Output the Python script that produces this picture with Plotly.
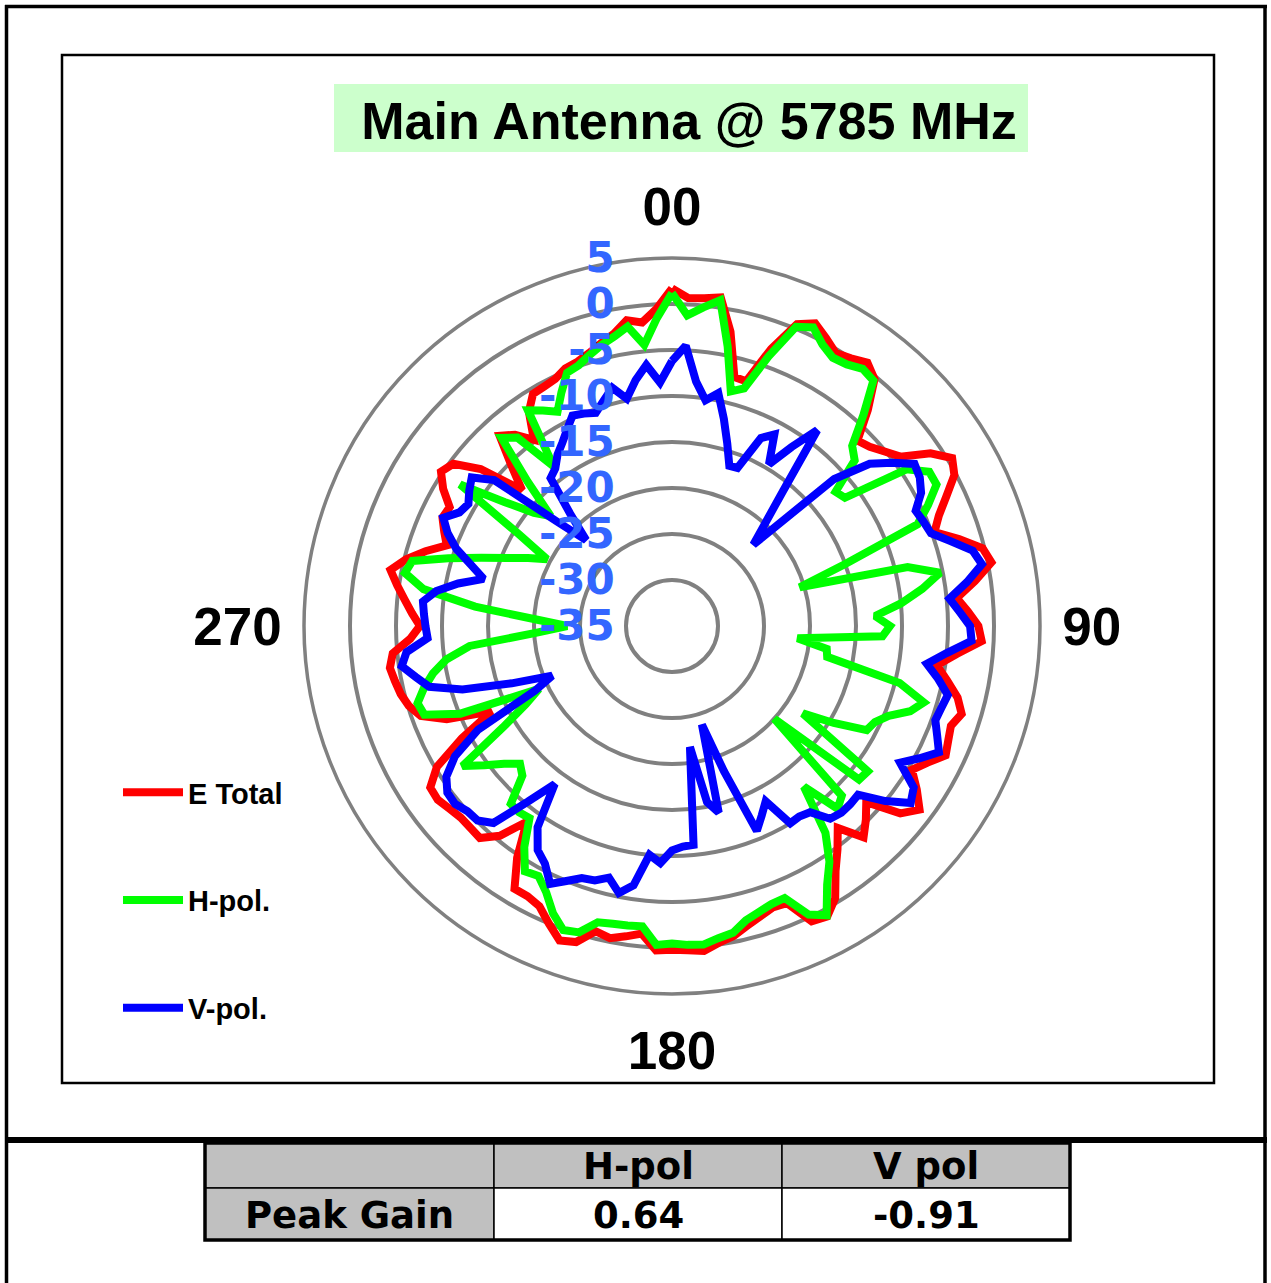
import plotly.graph_objects as go

W, H = 1271, 1283

# ---------------- data ----------------
N_CAT = 128                                   # radar categories (360/128 deg apart)
ANGLES = [i * 360 / N_CAT for i in range(N_CAT)]

E_TOTAL = [
    1.7, 0.7, 0.8, 1.1, -2.4, -7.1, -7.2, -3.0, 0.5, 1.4, 0.5, -0.4, 0.0, 0.65, -0.3, -3.3,
    -6.5, -6.0, -5.1, -4.1, -1.2, 0.5, -0.2, -2.0, -3.6, -4.7, -2.4, -0.2, 0.4, -1.7, -3.9, -2.8,
    -1.7, -1.3, -3.9, -5.9, -4.5, -3.0, -2.1, -2.8, -2.5, -2.1, -3.5, -4.6, -3.0, -1.5, -2.9, -6.5,
    -5.2, -4.0, -6.6, -4.8, -3.0, -0.5, 0.8, 0.5, -2.4, -2.5, -2.0, -1.4, -0.65, -0.2, 0.5, 0.3,
    0.2, 0.3, -1.4, -0.9, -0.4, -0.8, 0.9, 1.3, 0.0, -1.3, -1.7, -1.7, -4.7, -8.5, -5.5, -3.9,
    -4.0, -4.0, -3.7, -3.3, -3.4, -5.2, -9.1, -13.3, -8.5, -6.0, -5.1, -4.6, -4.3, -4.0, -4.5, -6.5,
    -7.6, -6.7, -5.8, -4.8, -3.8, -5.2, -7.0, -9.0, -8.2, -7.4, -7.6, -6.0, -4.8, -5.4, -8.1, -13.0,
    -10.3, -7.1, -8.1, -9.8, -7.0, -5.6, -5.5, -5.3, -4.7, -4.5, -4.0, -3.3, -2.6, -1.4, -1.85, -0.5,
]

H_POL = [
    1.2, -1.2, -0.2, 0.8, -4.0, -8.7, -8.0, -3.9, 0.2, 0.9, -0.3, -1.0, -0.8, -0.2, -0.5, -4.0,
    -7.3, -8.2, -12.0, -11.6, -4.35, -2.4, -2.4, -4.2, -6.1, -15.0, -20.5, -8.6, -5.3, -7.5, -10.0, -12.9,
    -11.3, -12.1, -21.3, -18.0, -17.8, -9.5, -6.4, -7.5, -9.5, -10.6, -11.0, -14.5, -17.9, -8.5, -8.7, -20.0,
    -8.9, -8.2, -12.4, -7.0, -4.2, -2.2, 0.65, -0.3, -3.0, -2.9, -2.5, -2.0, -1.0, -0.7, -0.2, -0.3,
    -0.5, -0.3, -2.2, -2.1, -2.0, -1.8, -0.2, 0.1, -1.2, -3.0, -4.2, -3.9, -6.1, -9.0, -8.8, -8.9,
    -12.0, -12.7, -11.4, -9.6, -7.6, -13.6, -17.0, -19.0, -10.1, -6.4, -6.1, -7.2, -8.5, -10.2, -12.9, -20.3,
    -23.6, -20.1, -13.5, -7.7, -5.4, -5.9, -9.6, -13.0, -15.7, -17.7, -19.6, -15.6, -7.3, -12.4, -15.6, -17.2,
    -12.8, -7.4, -8.5, -13.4, -6.8, -7.7, -8.6, -6.9, -5.2, -4.9, -4.2, -3.5, -2.9, -2.1, -4.3, -1.5,
]

V_POL = [
    -6.2, -4.5, -8.3, -10.2, -9.2, -11.8, -14.3, -16.5, -16.4, -12.4, -11.4, -14.5, -11.6, -8.5, -15.9, -19.9,
    -22.5, -11.2, -7.2, -5.2, -3.3, -3.6, -4.3, -5.7, -5.4, -5.1, -3.3, -1.3, -0.65, -2.6, -4.7, -3.7,
    -2.6, -2.4, -5.0, -7.0, -5.5, -4.1, -4.4, -4.6, -3.8, -2.9, -4.5, -6.1, -3.4, -2.7, -5.0, -7.7,
    -7.6, -7.6, -7.9, -9.8, -10.1, -10.0, -13.4, -12.2, -10.9, -18.2, -23.8, -14.1, -15.5, -21.7, -11.1, -11.0,
    -10.6, -9.2, -10.0, -6.5, -5.4, -6.8, -6.1, -5.9, -5.0, -4.0, -5.7, -6.6, -8.7, -13.6, -10.3, -6.1,
    -5.1, -5.0, -4.5, -4.6, -5.5, -7.5, -11.1, -18.5, -20.9, -16.5, -11.2, -7.8, -6.6, -5.3, -6.0, -8.4,
    -8.2, -8.0, -7.8, -9.1, -11.3, -13.9, -12.2, -10.1, -8.6, -7.5, -8.8, -9.2, -8.5, -7.9, -10.0, -18.0,
    -21.8, -18.5, -14.2, -13.7, -12.6, -11.8, -10.8, -9.7, -10.0, -10.4, -9.4, -8.3, -9.8, -8.0, -6.5, -8.5,
]

SERIES_NAMES = ["E Total", "H-pol.", "V-pol."]
SERIES_COLORS = ["#ff0000", "#00ff00", "#0000ff"]

RADIAL_TICKS = [-35, -30, -25, -20, -15, -10, -5, 0, 5]
ANGULAR_TICKS = [0, 90, 180, 270]
ANGULAR_LABELS = ["00", "90", "180", "270"]

TITLE = "Main Antenna @ 5785 MHz"
TABLE_HEADER = ["", "H-pol", "V pol"]
TABLE_ROW = ["Peak Gain", "0.64", "-0.91"]

# ---------------- helpers (pixel -> paper) ----------------
def px(x):
    return x / W


def py(y):
    return 1 - y / H


ARIAL = "Liberation Sans, Arial, sans-serif"
VERDANA = "DejaVu Sans, Verdana, sans-serif"

fig = go.Figure()

for name, vals, col in zip(SERIES_NAMES, [E_TOTAL, H_POL, V_POL], SERIES_COLORS):
    fig.add_trace(go.Scatterpolar(
        r=vals + [vals[0]],
        theta=ANGLES + [360],
        mode="lines",
        name=name,
        legendgroup=name,
        line=dict(color=col, width=8),
    ))

shapes = []
# title background
shapes.append(dict(type="rect", xref="paper", yref="paper",
                   x0=px(334), x1=px(1028), y0=py(152), y1=py(84),
                   fillcolor="#ccffcc", line=dict(width=0), layer="below"))
# inner chart frame
shapes.append(dict(type="rect", xref="paper", yref="paper",
                   x0=px(62), x1=px(1214), y0=py(1083), y1=py(55),
                   line=dict(color="black", width=2.5), layer="below"))
# outer frame lines
shapes.append(dict(type="line", xref="paper", yref="paper",
                   x0=px(6.5), x1=px(6.5), y0=py(5), y1=py(1283), line=dict(color="black", width=3.5)))
shapes.append(dict(type="line", xref="paper", yref="paper",
                   x0=px(1265), x1=px(1265), y0=py(5), y1=py(1283), line=dict(color="black", width=3.5)))
shapes.append(dict(type="line", xref="paper", yref="paper",
                   x0=px(5), x1=px(1267), y0=py(6.5), y1=py(6.5), line=dict(color="black", width=3.5)))
shapes.append(dict(type="line", xref="paper", yref="paper",
                   x0=px(5), x1=px(1267), y0=py(1140), y1=py(1140), line=dict(color="black", width=6)))

# table
col_edges = [205, 494, 782, 1070]
row_edges = [1143, 1188, 1240]
GRAY = "#c0c0c0"
fills = [[GRAY, GRAY, GRAY], [GRAY, "white", "white"]]
annotations = []
rows = [TABLE_HEADER, TABLE_ROW]
for ri in range(2):
    for ci in range(3):
        shapes.append(dict(type="rect", xref="paper", yref="paper",
                           x0=px(col_edges[ci]), x1=px(col_edges[ci + 1]),
                           y0=py(row_edges[ri + 1]), y1=py(row_edges[ri]),
                           fillcolor=fills[ri][ci], line=dict(color="black", width=1.5)))
        if rows[ri][ci]:
            annotations.append(dict(
                xref="paper", yref="paper",
                x=px((col_edges[ci] + col_edges[ci + 1]) / 2),
                y=py((row_edges[ri] + row_edges[ri + 1]) / 2 + 1),
                text=rows[ri][ci], showarrow=False, xanchor="center", yanchor="middle",
                font=dict(family=VERDANA, size=37, color="black", weight="bold")))
# thick outer border of table
shapes.append(dict(type="rect", xref="paper", yref="paper",
                   x0=px(205), x1=px(1070), y0=py(1240), y1=py(1143),
                   line=dict(color="black", width=3.5)))

fig.update_layout(
    width=W, height=H, autosize=False,
    margin=dict(l=0, r=0, t=0, b=0),
    paper_bgcolor="white",
    title=dict(text=TITLE, x=px(689), y=py(121), xref="paper", yref="paper",
               xanchor="center", yanchor="middle",
               font=dict(family=ARIAL, size=52, color="black", weight="bold")),
    polar=dict(
        domain=dict(x=[px(304), px(1040)], y=[py(994), py(258)]),
        bgcolor="rgba(0,0,0,0)",
        radialaxis=dict(
            range=[-35, 5], tickmode="array", tickvals=RADIAL_TICKS,
            ticktext=[str(v) for v in RADIAL_TICKS],
            angle=90, tickangle=90, side="counterclockwise",
            showline=False, gridcolor="#808080", gridwidth=3.5,
            ticks="outside", ticklen=42, tickcolor="rgba(0,0,0,0)",
            tickfont=dict(family=VERDANA, size=42, color="#3366ff", weight="bold"),
            layer="above traces",
        ),
        angularaxis=dict(
            direction="clockwise", rotation=90,
            tickmode="array", tickvals=ANGULAR_TICKS, ticktext=ANGULAR_LABELS,
            showgrid=False, showline=True, linecolor="#808080", linewidth=3.5,
            ticks="outside", ticklen=10, tickcolor="rgba(0,0,0,0)",
            tickfont=dict(family=ARIAL, size=53, color="black", weight="bold"),
        ),
    ),
    showlegend=True,
    legend=dict(
        x=px(118), y=py(767), xanchor="left", yanchor="top",
        font=dict(family=ARIAL, size=29, color="black", weight="bold"),
        tracegroupgap=67, itemwidth=60, bgcolor="rgba(0,0,0,0)",
    ),
    shapes=shapes,
    annotations=annotations,
)

fig.write_html("out.html", config={"displayModeBar": False},
               post_script="document.body.style.margin='0px';")
